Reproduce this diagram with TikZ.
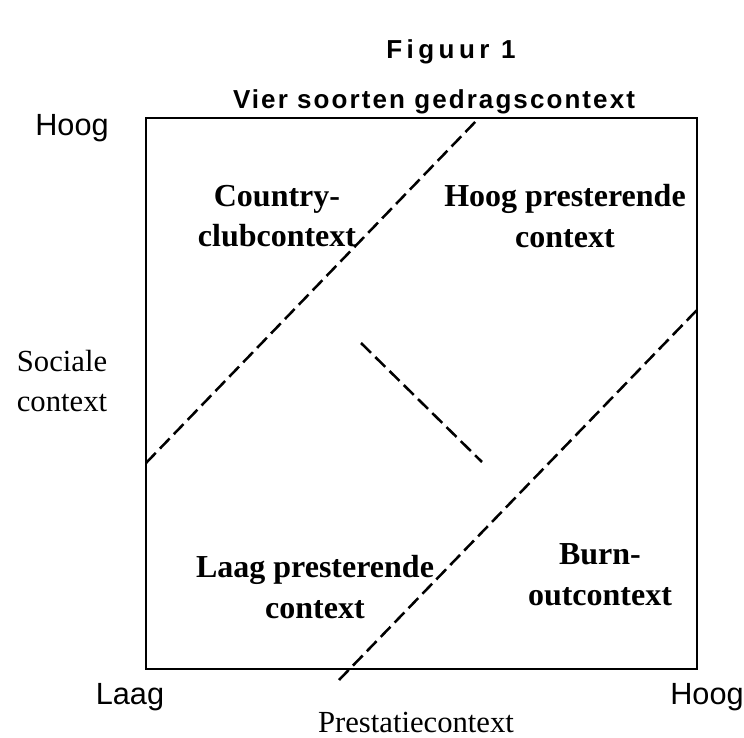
\documentclass[tikz,border=0pt]{standalone}
\usepackage{fontspec}
\setmainfont{Liberation Serif}
\setsansfont{Liberation Sans}
\newfontfamily\titlefont[LetterSpace=8]{Liberation Sans}
\newfontfamily\figfont[LetterSpace=17]{Liberation Sans}
\begin{document}
\begin{tikzpicture}[x=0.75pt,y=-0.75pt,
  box/.style={line width=1.6pt},
  dline/.style={line width=1.9pt,dash pattern=on 10.5pt off 4.5pt},
  quad/.style={align=center,font=\fontsize{24}{30.5}\selectfont\bfseries,inner sep=0pt},
  axis/.style={font=\fontsize{23}{28}\selectfont\sffamily,inner sep=0pt},
  axisname/.style={align=center,font=\fontsize{23}{30.5}\selectfont,inner sep=0pt},
  ttl/.style={font=\fontsize{19.5}{22}\selectfont\titlefont\bfseries,inner sep=0pt},
  figttl/.style={font=\fontsize{19.5}{22}\selectfont\figfont\bfseries,inner sep=0pt}]
\useasboundingbox (0,0) rectangle (744,738);
\node[figttl] (fig) at (451,52) {Figuur 1};
\node[ttl] (title) at (434,102) {Vier soorten gedragscontext};
\coordinate (tl) at (146,118);
\coordinate (br) at (697,669);
\draw[box] (tl) rectangle (br);
\coordinate (a1) at (146,463);
\coordinate (a2) at (479,118);
\coordinate (b1) at (339,680);
\coordinate (b2) at (697,310);
\coordinate (c1) at (361,343);
\coordinate (c2) at (482,462);
\draw[dline] (a1) -- (a2);
\draw[dline] (b1) -- (b2);
\draw[dline] (c1) -- (c2);
\node[quad] (cc) at (277,216) {Country-\\clubcontext};
\node[quad] (hp) at (565,216) {Hoog presterende\\context};
\node[quad] (lp) at (315,587) {Laag presterende\\context};
\node[quad] (bo) at (600,575) {Burn-\\outcontext};
\node[axis] (yh) at (72,128) {Hoog};
\node[axisname] (yn) at (62,381) {Sociale\\context};
\node[axis] (xl) at (130,697) {Laag};
\node[axis] (xh) at (707,697) {Hoog};
\node[axisname] (xn) at (416,722) {Prestatiecontext};
\end{tikzpicture}
\end{document}
